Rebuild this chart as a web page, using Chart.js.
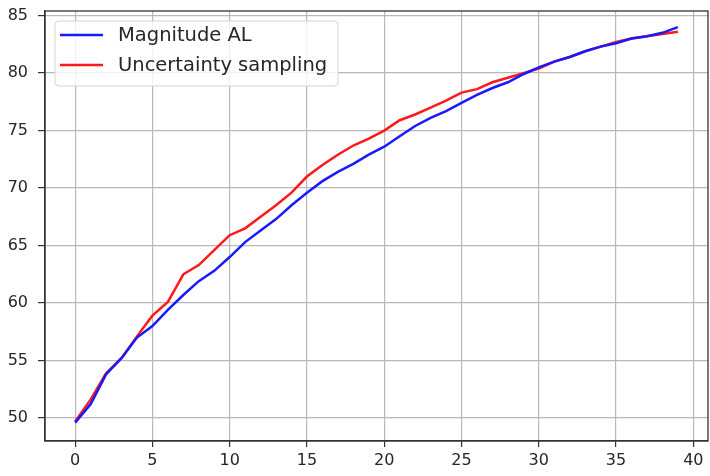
<!DOCTYPE html>
<html>
<head>
<meta charset="utf-8">
<script src="https://cdn.jsdelivr.net/npm/chart.js@4.4.0/dist/chart.umd.min.js"></script>
<style>
  html, body { margin: 0; padding: 0; background: #fff; }
  #wrap { width: 710px; height: 476px; }
</style>
</head>
<body>
<div id="wrap"><canvas id="c" width="710" height="476"></canvas></div>
<script>
const steps = [0,1,2,3,4,5,6,7,8,9,10,11,12,13,14,15,16,17,18,19,20,21,22,23,24,25,26,27,28,29,30,31,32,33,34,35,36,37,38,39];
const magnitudeAL = [49.6,51.2,53.8,55.2,57.0,58.0,59.4,60.7,61.9,62.8,64.0,65.3,66.3,67.3,68.5,69.6,70.6,71.4,72.1,72.9,73.6,74.5,75.4,76.1,76.7,77.4,78.1,78.7,79.2,79.9,80.5,81.0,81.4,81.9,82.3,82.6,83.0,83.2,83.5,84.0];
const uncertaintySampling = [49.7,51.6,53.9,55.2,57.1,58.9,60.1,62.5,63.3,64.6,65.9,66.5,67.5,68.5,69.6,71.0,72.0,72.9,73.7,74.3,75.0,75.9,76.4,77.0,77.6,78.3,78.6,79.2,79.6,80.0,80.4,81.0,81.4,81.9,82.3,82.7,83.0,83.2,83.4,83.6];
const xTicks = [0,5,10,15,20,25,30,35,40];
const yTicks = [50,55,60,65,70,75,80,85];
const seriesNames = ['Magnitude AL', 'Uncertainty sampling'];

const FONT = 'DejaVu Sans';

const framePlugin = {
  id: 'frame',
  afterDraw(chart) {
    const {ctx, chartArea: a} = chart;
    ctx.save();
    ctx.strokeStyle = '#333';
    ctx.lineWidth = 1.3;
    ctx.strokeRect(a.left, a.top, a.right - a.left, a.bottom - a.top);
    ctx.restore();
  }
};

const legendPlugin = {
  id: 'boxLegend',
  afterDraw(chart) {
    const {ctx} = chart;
    const x0 = 55, y0 = 21, w = 283, h = 65, r = 4;
    ctx.save();
    ctx.beginPath();
    ctx.moveTo(x0 + r, y0);
    ctx.arcTo(x0 + w, y0, x0 + w, y0 + h, r);
    ctx.arcTo(x0 + w, y0 + h, x0, y0 + h, r);
    ctx.arcTo(x0, y0 + h, x0, y0, r);
    ctx.arcTo(x0, y0, x0 + w, y0, r);
    ctx.closePath();
    ctx.fillStyle = 'rgba(255,255,255,0.8)';
    ctx.fill();
    ctx.strokeStyle = '#d4d4d4';
    ctx.lineWidth = 1;
    ctx.stroke();
    const rows = [35, 65];
    chart.data.datasets.forEach((ds, i) => {
      const y = rows[i];
      ctx.beginPath();
      ctx.moveTo(60, y);
      ctx.lineTo(103, y);
      ctx.strokeStyle = ds.borderColor;
      ctx.lineWidth = 2.5;
      ctx.stroke();
      ctx.fillStyle = '#262626';
      ctx.font = '19.5px "' + FONT + '"';
      ctx.textBaseline = 'middle';
      ctx.textAlign = 'left';
      ctx.fillText(ds.label, 118, y + 1);
    });
    ctx.restore();
  }
};

new Chart(document.getElementById('c'), {
  type: 'line',
  data: {
    datasets: [
      {
        label: seriesNames[0],
        data: steps.map((s, i) => ({x: s, y: magnitudeAL[i]})),
        borderColor: 'rgb(25,25,255)',
        borderWidth: 2.5,
        pointRadius: 0,
        tension: 0,
        fill: false
      },
      {
        label: seriesNames[1],
        data: steps.map((s, i) => ({x: s, y: uncertaintySampling[i]})),
        borderColor: 'rgb(255,25,25)',
        borderWidth: 2.5,
        pointRadius: 0,
        tension: 0,
        fill: false
      }
    ]
  },
  options: {
    responsive: false,
    animation: false,
    layout: { padding: { left: 0, top: 11, right: 2, bottom: 0 } },
    plugins: {
      legend: { display: false },
      tooltip: { enabled: false }
    },
    scales: {
      x: {
        type: 'linear',
        min: -1.95,
        max: 40.95,
        afterBuildTicks(scale) { scale.ticks = xTicks.map(v => ({value: v})); },
        afterFit(scale) { scale.height = 35; scale.paddingLeft = 0; scale.paddingRight = 0; },
        grid: {
          color: '#b8b8b8',
          lineWidth: 1.2,
          tickLength: 6,
          tickColor: '#333',
          tickWidth: 1.2
        },
        border: { display: true, color: '#333', width: 1.3 },
        ticks: {
          padding: 4,
          color: '#262626',
          font: { family: FONT, size: 16 },
          callback: v => String(v)
        }
      },
      y: {
        type: 'linear',
        min: 48.0,
        max: 85.4,
        afterBuildTicks(scale) { scale.ticks = yTicks.map(v => ({value: v})); },
        afterFit(scale) { scale.width = 45; scale.paddingTop = 0; scale.paddingBottom = 0; },
        grid: {
          color: '#b8b8b8',
          lineWidth: 1.2,
          tickLength: 7,
          tickColor: '#333',
          tickWidth: 1.2
        },
        border: { display: true, color: '#333', width: 1.3 },
        ticks: {
          padding: 10,
          color: '#262626',
          font: { family: FONT, size: 16 },
          callback: v => String(v)
        }
      }
    }
  },
  plugins: [framePlugin, legendPlugin]
});
</script>
</body>
</html>
